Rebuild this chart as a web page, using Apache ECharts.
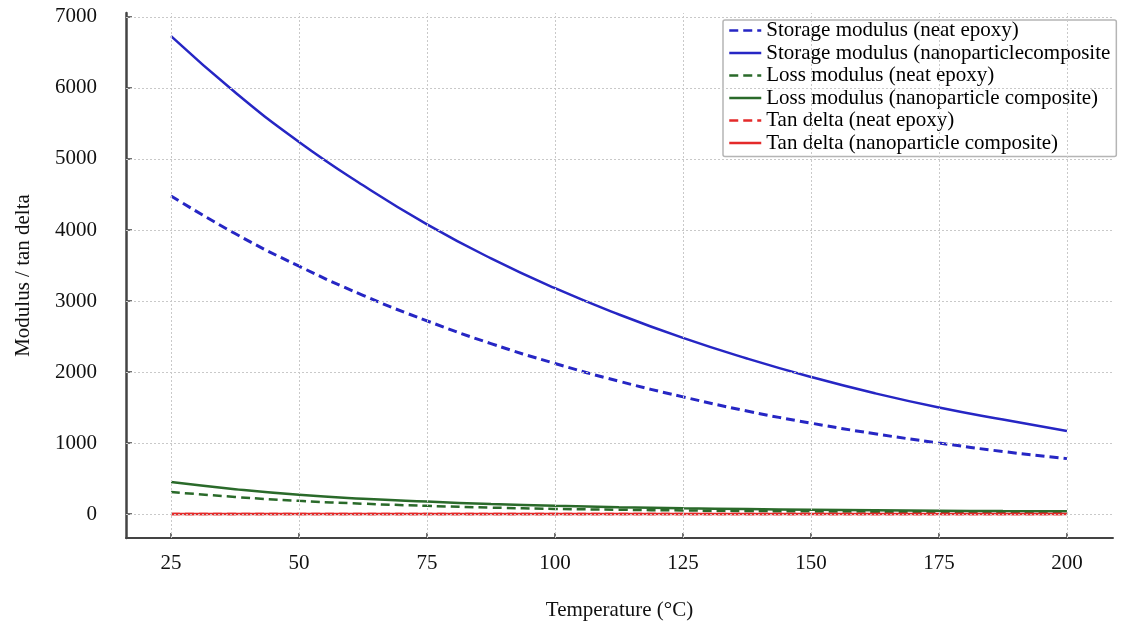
<!DOCTYPE html>
<html><head><meta charset="utf-8">
<script src="https://cdn.jsdelivr.net/npm/echarts@6/dist/echarts.min.js"></script>
<style>html,body{margin:0;padding:0;background:#fff}#c{width:1130px;height:621px}</style>
</head><body><div id="c"></div>
<script>
const temperature = [25, 37.5, 50, 62.5, 75, 87.5, 100, 112.5, 125, 137.5, 150, 162.5, 175, 187.5, 200];
const storageNeat = [4480, 3950, 3490, 3080, 2720, 2400, 2120, 1870, 1650, 1450, 1280, 1130, 1000, 880, 780];
const storageComposite = [6730, 5940, 5240, 4630, 4080, 3600, 3180, 2810, 2480, 2190, 1930, 1700, 1500, 1330, 1170];
const lossNeat = [310, 240, 185, 145, 115, 90, 72, 60, 50, 43, 37, 33, 30, 27, 25];
const lossComposite = [450, 350, 270, 215, 175, 140, 115, 95, 80, 70, 60, 52, 46, 41, 37];
const tanNeat = [0.07, 0.068, 0.066, 0.064, 0.062, 0.06, 0.058, 0.056, 0.054, 0.052, 0.05, 0.048, 0.046, 0.044, 0.042];
const tanComposite = [0.05, 0.049, 0.048, 0.047, 0.046, 0.045, 0.044, 0.043, 0.042, 0.041, 0.04, 0.039, 0.038, 0.037, 0.036];
const xTicks = [25, 50, 75, 100, 125, 150, 175, 200];
const yTicks = [0, 1000, 2000, 3000, 4000, 5000, 6000, 7000];
const names = [
  'Storage modulus (neat epoxy)',
  'Storage modulus (nanoparticlecomposite',
  'Loss modulus (neat epoxy)',
  'Loss modulus (nanoparticle composite)',
  'Tan delta (neat epoxy)',
  'Tan delta (nanoparticle composite)'
];

const FONT = "'Liberation Serif', 'Times New Roman', serif";
const BLUE = '#2626c4', GREEN = '#2a6a2a', RED = '#e42a2a';
const pair = arr => temperature.map((t, i) => [t, arr[i]]);

function mkSeries(name, arr, color, dashed, width) {
  return {
    name, type: 'line', data: pair(arr), smooth: true, symbol: 'none', showSymbol: false,
    lineStyle: { color, width, type: dashed ? [9, 5] : 'solid' },
    itemStyle: { color }, z: 3
  };
}

const gridLine = { color: '#c9c9c9', width: 1, type: [2, 2] };

const option = {
  backgroundColor: '#fff',
  animation: false,
  grid: { left: 126, right: 17, top: 13, bottom: 83, containLabel: false, outerBoundsMode: 'none' },
  xAxis: {
    type: 'value', min: 16.2, max: 209,
    name: 'Temperature (°C)', nameLocation: 'middle', nameGap: 62,
    nameTextStyle: { fontFamily: FONT, fontSize: 21, color: '#111' },
    axisLine: { show: true, onZero: false, lineStyle: { color: '#444', width: 2 } },
    axisTick: { show: true, inside: true, length: 5, customValues: xTicks, lineStyle: { color: '#444', width: 1.5 } },
    axisLabel: { customValues: xTicks, margin: 15, fontFamily: FONT, fontSize: 21, color: '#111', formatter: v => String(v) },
    splitLine: { show: false }
  },
  yAxis: {
    type: 'value', min: -338, max: 7056,
    name: 'Modulus / tan delta', nameLocation: 'middle', nameGap: 92, nameRotate: 90,
    nameTextStyle: { fontFamily: FONT, fontSize: 21, color: '#111' },
    axisLine: { show: true, onZero: false, lineStyle: { color: '#444', width: 2.5 } },
    axisTick: { show: true, inside: true, length: 6, customValues: yTicks, lineStyle: { color: '#444', width: 1.5 } },
    axisLabel: { customValues: yTicks, margin: 29, fontFamily: FONT, fontSize: 21, color: '#111', formatter: v => String(v) },
    splitLine: { show: false }
  },
  legend: {
    data: names, orient: 'vertical', left: 723, top: 20,
    itemWidth: 32, itemHeight: 12, itemGap: 1.5,
    padding: [0, 6, 3, 5],
    itemStyle: { opacity: 0 },
    lineStyle: { width: 2.5 },
    backgroundColor: '#fff', borderColor: '#b5b5b5', borderWidth: 1.5, borderRadius: 2,
    textStyle: { fontFamily: FONT, fontSize: 21, lineHeight: 20, color: '#000' },
    selectedMode: false
  },
  series: [
    {
      name: 'grid', type: 'line', data: [], silent: true, z: 1,
      markLine: {
        silent: true, symbol: ['none', 'none'], label: { show: false },
        lineStyle: gridLine, animation: false,
        data: xTicks.map(v => ({ xAxis: v })).concat(yTicks.map(v => ({ yAxis: v })))
      }
    },
    mkSeries(names[0], storageNeat, BLUE, true, 3),
    mkSeries(names[1], storageComposite, BLUE, false, 2.5),
    mkSeries(names[2], lossNeat, GREEN, true, 2.5),
    mkSeries(names[3], lossComposite, GREEN, false, 2.5),
    mkSeries(names[4], tanNeat, RED, true, 2.5),
    mkSeries(names[5], tanComposite, RED, false, 2.5)
  ]
};

const chart = echarts.init(document.getElementById('c'), null, { renderer: 'canvas' });
chart.setOption(option);
</script>
</body></html>
